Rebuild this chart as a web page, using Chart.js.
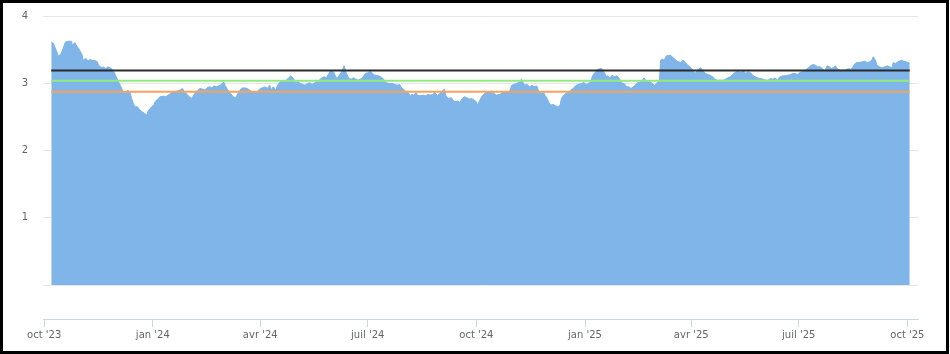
<!DOCTYPE html>
<html>
<head>
<meta charset="utf-8">
<script src="https://cdn.jsdelivr.net/npm/chart.js@4/dist/chart.umd.min.js"></script>
<style>
  html, body { margin: 0; padding: 0; background: #fff; }
  #wrap { position: absolute; left: 0; top: 0; width: 950px; height: 354px; }
  #frame { position: absolute; left: 0; top: 0; width: 949px; height: 354px; box-sizing: border-box; border: 3px solid #000; pointer-events: none; }
  canvas { position: absolute; left: 0; top: 0; }
</style>
</head>
<body>
<div id="wrap"><canvas id="c" width="950" height="354"></canvas><div id="frame"></div></div>
<script>
// Days since 2023-10-01
const days = [
6,8,9,12,14,15,16,18,21,23,24,26,28,29,30,32,33,35,36,37,39,40,43,45,46,49,50,52,54,56,57,59,61,63,65,67,69,70,71,73,74,76,77,79,81,83,85,87,88,91,93,94,96,98,101,103,105,
107,110,112,115,117,119,121,123,125,127,129,132,134,136,138,140,142,144,146,149,151,152,153,155,158,160,162,163,165,167,169,172,174,176,179,181,183,185,187,189,191,192,194,196,198,200,203,205,207,209,211,
213,215,217,219,221,223,225,227,229,231,233,235,237,239,241,243,245,247,248,250,252,254,256,258,260,262,264,266,269,271,272,275,276,278,280,283,285,287,289,292,295,297,299,301,302,304,306,309,310,311,313,315,316,
318,321,323,325,327,329,331,333,335,338,339,340,342,345,346,348,350,352,354,356,358,360,362,364,366,367,369,371,373,375,377,379,381,383,386,388,390,392,394,396,398,400,403,404,406,407,409,411,413,415,417,419,421,423,
424,426,427,429,431,433,435,437,438,440,442,444,446,448,450,452,455,457,459,461,463,465,467,469,472,474,476,477,479,481,483,485,487,489,492,493,495,497,499,501,503,506,508,509,511,513,515,517,519,521,522,523,525,527,529,
530,532,534,536,539,541,543,545,547,549,551,552,554,556,558,560,562,564,566,568,570,572,575,577,579,581,583,585,587,590,592,594,596,598,600,602,604,606,609,611,613,615,617,619,621,623,626,628,630,632,634,
636,638,640,642,645,647,649,651,653,655,657,659,661,663,665,667,669,670,672,674,676,678,681,683,685,686,688,690,693,695,697,699,701,702,704,705,707,710,712,714,716,718,719,721,723,726,728,730,732,733
];
const values = [
3.615,3.590,3.541,3.407,3.427,3.467,3.516,3.615,3.625,3.625,3.566,3.605,3.541,3.526,3.491,3.427,3.343,3.368,3.358,3.328,3.358,3.343,3.338,3.318,3.269,3.229,3.244,3.219,3.244,3.229,3.219,3.170,3.096,3.022,2.947,2.863,2.848,2.883,2.898,2.848,2.774,2.675,2.651,2.651,2.601,2.576,2.552,2.527,2.586,2.651,2.675,2.725,2.764,2.799,2.809,2.799,2.824,
2.848,2.873,2.883,2.898,2.923,2.873,2.834,2.799,2.774,2.834,2.883,2.923,2.913,2.898,2.933,2.947,2.933,2.962,2.947,2.972,2.997,3.022,2.972,2.913,2.848,2.799,2.784,2.814,2.873,2.923,2.933,2.923,2.898,2.873,2.863,2.883,2.923,2.933,2.947,2.923,2.972,2.898,2.947,2.898,2.982,3.022,3.031,3.046,3.081,3.111,3.071,
3.012,3.022,2.997,2.982,2.972,2.997,3.007,2.982,3.007,3.031,3.046,3.081,3.096,3.081,3.145,3.195,3.170,3.096,3.071,3.120,3.170,3.259,3.145,3.071,3.061,3.081,3.061,3.046,3.071,3.120,3.145,3.160,3.180,3.145,3.120,3.111,3.096,3.071,3.012,2.997,2.997,2.982,2.972,2.982,2.947,2.913,2.883,2.848,2.799,2.834,2.824,2.863,2.824,
2.814,2.824,2.814,2.834,2.824,2.834,2.863,2.814,2.848,2.898,2.913,2.824,2.774,2.784,2.750,2.725,2.735,2.715,2.774,2.799,2.784,2.764,2.774,2.750,2.725,2.675,2.750,2.814,2.848,2.863,2.873,2.883,2.848,2.824,2.834,2.863,2.873,2.863,2.873,2.972,2.982,2.997,3.022,3.061,2.997,2.972,2.982,2.947,2.972,2.947,2.962,2.873,2.848,2.863,
2.824,2.774,2.725,2.675,2.685,2.665,2.651,2.675,2.774,2.824,2.848,2.863,2.898,2.923,2.962,2.982,2.997,3.012,2.982,2.997,3.046,3.130,3.170,3.209,3.219,3.170,3.096,3.111,3.081,3.120,3.096,3.111,3.071,3.012,2.982,2.947,2.947,2.923,2.947,2.982,3.012,3.031,3.081,3.046,3.031,3.022,2.997,2.962,3.012,3.022,3.343,3.358,3.343,3.407,3.417,
3.417,3.393,3.358,3.328,3.308,3.343,3.308,3.269,3.244,3.209,3.145,3.160,3.209,3.229,3.180,3.145,3.130,3.120,3.096,3.061,3.046,3.046,3.046,3.061,3.081,3.096,3.130,3.160,3.180,3.160,3.195,3.145,3.170,3.160,3.120,3.096,3.081,3.071,3.061,3.046,3.046,3.071,3.061,3.081,3.046,3.096,3.111,3.111,3.120,3.130,3.145,
3.145,3.130,3.160,3.170,3.195,3.229,3.259,3.279,3.269,3.244,3.244,3.219,3.180,3.259,3.244,3.219,3.244,3.259,3.209,3.195,3.195,3.195,3.219,3.209,3.244,3.279,3.308,3.308,3.318,3.328,3.308,3.318,3.343,3.393,3.343,3.279,3.244,3.229,3.244,3.259,3.244,3.229,3.308,3.294,3.318,3.343,3.328,3.318,3.308,3.294
];
// Horizontal reference levels (black, green, orange)
const refLevels = [3.189, 3.036, 2.873];
const refColors = ['#2b2b2b', '#90ed7d', '#f7a35c'];
const yTicks = [0, 1, 2, 3, 4];
const tickDays = [0, 92, 183, 274, 366, 458, 548, 639, 731];
const tickLabels = ["oct '23", "jan '24", "avr '24", "juil '24", "oct '24", "jan '25", "avr '25", "juil '25", "oct '25"];

const areaData = days.map((d, i) => ({ x: d, y: values[i] }));
const firstDay = days[0], lastDay = days[days.length - 1];

const datasets = [{
  data: areaData,
  fill: 'origin',
  backgroundColor: 'rgb(128,181,234)',
  borderColor: 'rgb(124,178,232)',
  borderWidth: 1,
  pointRadius: 0,
  tension: 0,
  order: 10
}];
refLevels.forEach((lv, i) => {
  datasets.push({
    data: [{ x: firstDay, y: lv }, { x: lastDay, y: lv }],
    borderColor: refColors[i],
    borderWidth: 2,
    pointRadius: 0,
    fill: false,
    order: 3 - i
  });
});

Chart.defaults.font.family = '"DejaVu Sans", Verdana, sans-serif';
Chart.defaults.font.size = 10;
Chart.defaults.color = '#666666';

new Chart(document.getElementById('c'), {
  type: 'line',
  data: { datasets },
  options: {
    responsive: false,
    animation: false,
    events: [],
    layout: { padding: { left: 0, right: 32, top: 16, bottom: 0 } },
    plugins: { legend: { display: false }, tooltip: { enabled: false } },
    scales: {
      x: {
        type: 'linear',
        min: -1,
        max: 740,
        afterBuildTicks: (s) => { s.ticks = tickDays.map(v => ({ value: v })); },
        afterFit: (s) => { s.height = 35; },
        ticks: {
          autoSkip: false, maxRotation: 0, minRotation: 0, padding: 2,
          callback: (v, i) => tickLabels[i]
        },
        grid: { drawOnChartArea: false, drawTicks: true, tickLength: 8, color: '#ccd6eb' },
        border: { display: true, color: '#ccd6eb', width: 1 }
      },
      y: {
        type: 'linear',
        min: -0.505,
        max: 4,
        afterBuildTicks: (s) => { s.ticks = yTicks.map(v => ({ value: v })); },
        afterFit: (s) => { s.width = 43; },
        ticks: {
          padding: 2,
          callback: (v) => (v === 0 ? '' : String(v))
        },
        grid: { drawTicks: true, tickLength: 13, tickColor: 'rgba(0,0,0,0)', color: '#e6e6e6', lineWidth: 1 },
        border: { display: false }
      }
    }
  }
});
</script>
</body>
</html>
